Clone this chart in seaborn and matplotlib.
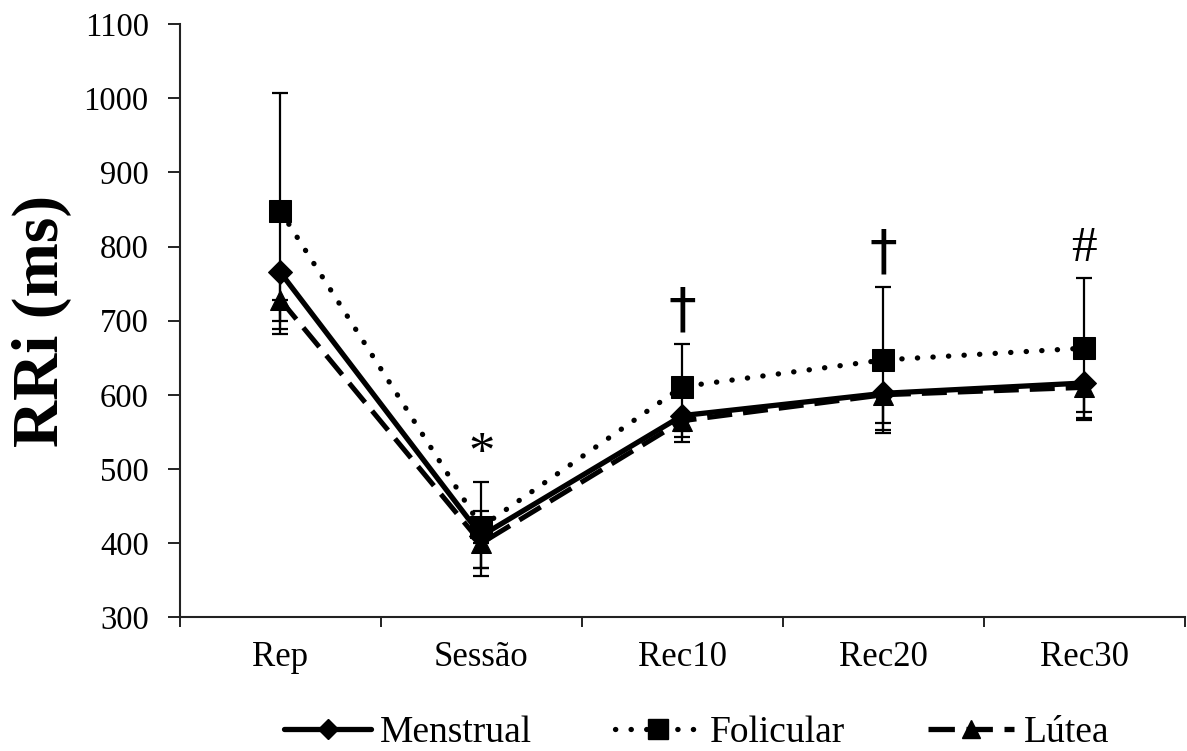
import matplotlib
matplotlib.use("Agg")
import matplotlib.pyplot as plt
import seaborn as sns
import numpy as np
import pandas as pd
from matplotlib.lines import Line2D

categories = ["Rep", "Sessão", "Rec10", "Rec20", "Rec30"]
menstrual = [765, 410, 572, 602, 616]
menstrual_err_low = [65, 43, 29, 40, 39]
menstrual_err_up = [0, 34, 0, 0, 0]
folicular = [848, 422, 611, 647, 663]
folicular_err_low = [159, 66, 60, 98, 94]
folicular_err_up = [159, 61, 58, 98, 94]
lutea = [728, 400, 565, 600, 610]
lutea_err_low = [46, 33, 29, 48, 44]
lutea_err_up = [0, 0, 0, 0, 0]
annotations = ["", "*", "†", "†", "#"]
annot_y = [None, 519, 712, 791, 797]

sns.set_theme(style="white")
plt.rcParams['font.family'] = ['Liberation Serif', 'DejaVu Serif']
plt.rcParams['text.color'] = 'black'
plt.rcParams['axes.labelcolor'] = 'black'
plt.rcParams['xtick.color'] = 'black'
plt.rcParams['ytick.color'] = 'black'

fig = plt.figure(figsize=(11.87, 7.51), dpi=100)
ax = fig.add_axes([0.1516, 0.178, 0.8464, 0.79])

x = np.arange(len(categories))

for vals, lo, up in [(menstrual, menstrual_err_low, menstrual_err_up),
                     (folicular, folicular_err_low, folicular_err_up),
                     (lutea, lutea_err_low, lutea_err_up)]:
    ax.errorbar(x, vals, yerr=[lo, up], fmt="none", ecolor="black", elinewidth=1.6,
                capsize=6, capthick=1.6, zorder=2)

dot_ls = (0, (0.05, 2.9))
dash_ls = (0, (5, 2.2))

df_m = pd.DataFrame({"x": x, "y": menstrual})
df_f = pd.DataFrame({"x": x, "y": folicular})
df_l = pd.DataFrame({"x": x, "y": lutea})
sns.lineplot(data=df_l, x="x", y="y", ax=ax, color="black", linewidth=3.6,
             linestyle=dash_ls, marker="^", markersize=15, markeredgecolor="black", zorder=3)
sns.lineplot(data=df_f, x="x", y="y", ax=ax, color="black", linewidth=3.8,
             linestyle=dot_ls, dash_capstyle="round", marker="s", markersize=16,
             markeredgecolor="black", zorder=3)
sns.lineplot(data=df_m, x="x", y="y", ax=ax, color="black", linewidth=3.8,
             linestyle="-", marker="D", markersize=12, markeredgecolor="black", zorder=4)

for xi, t, yv in zip(x, annotations, annot_y):
    if t == "†":
        ax.text(xi, yv, t, ha="center", va="center", fontsize=40, color="black",
                family="DejaVu Sans")
    elif t == "#":
        ax.text(xi, yv, t, ha="center", va="center", fontsize=37, color="black")
    elif t:
        ax.text(xi, yv, t, ha="center", va="center", fontsize=38, color="black")

ax.set_xlim(-0.5, 4.5)
ax.set_ylim(300, 1100)
ax.set_yticks(np.arange(300, 1101, 100))
ax.set_xticks(x)
ax.set_xticklabels(categories, fontsize=25)
ax.tick_params(axis="y", labelsize=23.5, direction="out", length=8.5, width=1.4, left=True,
               pad=14, color="#222222")
ax.tick_params(axis="x", length=0, pad=17)
ax.set_xticks(np.arange(-0.5, 4.6, 1), minor=True)
ax.tick_params(axis="x", which="minor", direction="out", length=7, width=1.4, bottom=True,
               color="#222222")
ax.set_xlabel("")
ax.set_ylabel("RRi (ms)", fontsize=47, fontweight="bold")
ax.yaxis.set_label_coords(-0.107, 0.5)
for s in ["top", "right"]:
    ax.spines[s].set_visible(False)
for s in ["left", "bottom"]:
    ax.spines[s].set_color("#222222")
    ax.spines[s].set_linewidth(1.5)

handles = [
    Line2D([], [], color="black", lw=3.8, ls="-", marker="D", markersize=10),
    Line2D([], [], color="black", lw=3.8, ls=dot_ls, dash_capstyle="round", marker="s", markersize=14),
    Line2D([], [], color="black", lw=3.8, ls=dash_ls, marker="^", markersize=13),
]
fig.legend(handles, ["Menstrual", "Folicular", "Lútea"], loc="center", bbox_to_anchor=(0.587, 0.024),
           ncol=3, frameon=False, fontsize=27, handlelength=2.3, handletextpad=0.25,
           columnspacing=2.2, borderaxespad=0, borderpad=0)

fig.savefig("out.png", dpi=100)
